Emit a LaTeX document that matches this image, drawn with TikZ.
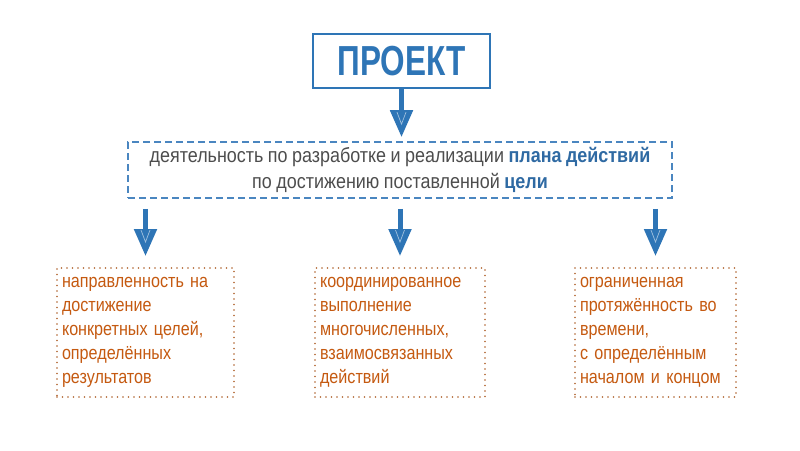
\documentclass[tikz,border=0pt]{standalone}
\usepackage{fontspec}
\setmainfont{Liberation Sans}[FakeStretch=0.85, WordSpace=0.8]
\newfontfamily\midfont{Liberation Sans}[FakeStretch=0.875, WordSpace=0.9]
\newfontfamily\headfont{Liberation Sans}[FakeStretch=0.75]
\usetikzlibrary{arrows.meta,calc}
\definecolor{projblue}{HTML}{2E75B6}
\definecolor{dashblue}{HTML}{4A86C0}
\definecolor{textgray}{HTML}{4D4D4D}
\definecolor{boldblue}{HTML}{2F6AA3}
\definecolor{orangetext}{HTML}{C55A11}
\definecolor{dotorange}{HTML}{B0622E}
\tikzset{
  projbox/.style={draw=projblue, line width=2.6pt, minimum width=177pt, minimum height=54pt, inner sep=0pt,
    text=projblue, font=\headfont\bfseries\fontsize{42}{42}\selectfont},
  defbox/.style={draw=dashblue, line width=1.7pt, dash pattern=on 7pt off 4pt, minimum width=544pt, minimum height=56pt,
    align=center, text=textgray, font=\midfont\fontsize{20.5}{26}\selectfont},
  featbox/.style={draw=dotorange, line width=1.9pt, dash pattern=on 0pt off 5.5pt, line cap=round,
    minimum height=129pt, inner xsep=5pt, align=left, text=orangetext, font=\fontsize{19}{24}\selectfont},
  bigarrow/.style={draw=projblue, line width=5pt, -{Triangle[length=27pt,width=22pt]}, projblue},
  vmark/.style={draw=white, opacity=0.55, line width=0.7pt}
}
\begin{document}
\begin{tikzpicture}[x=1pt,y=-1pt]
\useasboundingbox[fill=white] (0,0) rectangle (800,450);
\node[projbox] (proj) at (401.5,61) {ПРОЕКТ};
\node[defbox] (def) at (400,170) {деятельность по разработке и реализации {\bfseries\color{boldblue}плана действий}\\по достижению поставленной {\bfseries\color{boldblue}цели}};
\node[featbox, minimum width=177pt, text width=167pt] (f1) at (145.5,332.5) {направленность на\\достижение\\конкретных целей,\\определённых\\результатов};
\node[featbox, minimum width=170pt, text width=160pt] (f2) at (400,332.5) {координированное\\выполнение\\многочисленных,\\взаимосвязанных\\действий};
\node[featbox, minimum width=161pt, text width=151pt] (f3) at (655.5,332.5) {ограниченная\\протяжённость во\\времени,\\с определённым\\началом и концом};
\draw[bigarrow, shorten >=4pt] (proj.south) -- (def.north -| proj.south);
\draw[bigarrow, shorten <=10pt, shorten >=11pt] (f1.north |- def.south) -- (f1.north);
\draw[bigarrow, shorten <=10pt, shorten >=11pt] (f2.north |- def.south) -- (f2.north);
\draw[bigarrow, shorten <=10pt, shorten >=11pt] (f3.north |- def.south) -- (f3.north);
\draw[vmark] ($(proj.south |- def.north)+(-4.5,-29)$) -- ++(4.5,12) -- ++(4.5,-12);
\draw[vmark] ($(f1.north)+(-4.5,-37)$) -- ++(4.5,12) -- ++(4.5,-12);
\draw[vmark] ($(f2.north)+(-4.5,-37)$) -- ++(4.5,12) -- ++(4.5,-12);
\draw[vmark] ($(f3.north)+(-4.5,-37)$) -- ++(4.5,12) -- ++(4.5,-12);
\end{tikzpicture}
\end{document}
